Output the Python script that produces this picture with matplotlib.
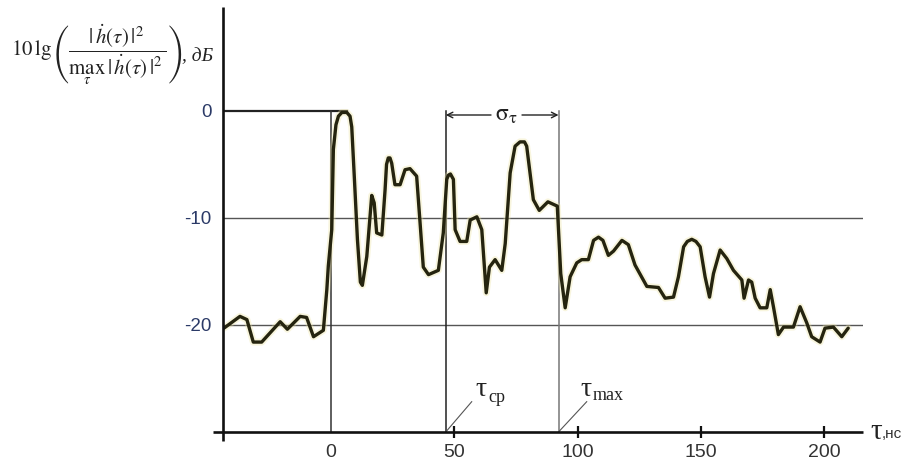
import matplotlib
matplotlib.use('Agg')
import matplotlib.pyplot as plt

# ---- data ----
tau_ns = [-43.3, -36.8, -34.0, -31.4, -28.0, -20.5, -17.6, -12.4, -9.8, -7.0,
          -3.0, -1.6, -1.0, 0.4, 1.05, 2.1, 3.1, 4.5, 6.5, 7.8,
          8.5, 9.5, 10.8, 12.0, 12.8, 14.6, 16.6, 17.6, 18.6, 20.7,
          22.0, 22.6, 23.3, 24.0, 24.7, 26.0, 28.1, 30.1, 32.1, 34.8, 36.2, 37.5,
          39.6, 43.6, 45.6, 47.0, 47.7, 48.5, 49.7, 50.4, 52.4, 55.1, 56.5, 59.2,
          61.2, 63.0, 64.3, 66.6, 69.3, 70.7, 72.7, 74.7, 76.7, 78.5, 79.4, 82.1,
          84.5, 88.0, 91.8, 93.2, 95.0, 97.0, 99.7, 101.7, 104.4, 106.5,
          108.5, 110.3, 112.5, 114.6, 118.0, 120.6, 123.3, 128.1, 132.8, 135.5,
          138.9, 140.9, 143.0, 144.5, 146.3, 148.0, 149.7, 151.7, 153.5, 155.1, 157.8, 160.5,
          163.2, 166.6, 167.5, 169.3, 170.6, 172.0, 174.0, 176.7, 178.1, 179.4,
          181.4, 183.5, 187.5, 190.2, 192.9, 194.9, 198.3, 200.3, 203.7, 207.1,
          209.7]
level_db = [-20.3, -19.2, -19.5, -21.6, -21.6, -19.7, -20.4, -19.2, -19.3, -21.1,
            -20.5, -16.7, -14.5, -11.1, -3.6, -1.3, -0.5, -0.15, -0.15, -0.5,
            -1.5, -6.0, -12.0, -16.0, -16.3, -13.6, -7.9, -8.6, -11.4, -11.6,
            -7.4, -5.0, -4.4, -4.4, -4.9, -6.9, -6.9, -5.5, -5.4, -6.1, -10.5, -14.6,
            -15.3, -14.9, -11.4, -6.4, -6.0, -5.9, -6.4, -11.1, -12.2, -12.2, -10.2, -9.9,
            -11.1, -17.0, -14.6, -13.9, -14.9, -12.4, -5.8, -3.3, -2.9, -2.9, -3.3, -8.3,
            -9.3, -8.5, -8.9, -15.2, -18.4, -15.5, -14.2, -13.9, -13.9, -12.1,
            -11.8, -12.1, -13.5, -13.1, -12.1, -12.5, -14.4, -16.4, -16.5, -17.5,
            -17.4, -15.5, -12.7, -12.2, -12.0, -12.2, -12.7, -15.5, -17.4, -15.2, -13.0, -13.8,
            -14.9, -15.8, -17.5, -15.8, -16.0, -17.5, -18.4, -18.4, -16.7, -18.3,
            -20.9, -20.2, -20.2, -18.3, -19.8, -21.1, -21.6, -20.3, -20.2, -21.1,
            -20.3]
x_ticks = [0, 50, 100, 150, 200]
x_tick_labels = ['0', '50', '100', '150', '200']
y_ticks = [0, -10, -20]
y_tick_labels = ['0', '-10', '-20']
tau_cp = 46.6
tau_max = 92.3

# ---- layout ----
W, H = 914, 461
fig = plt.figure(figsize=(W / 100, H / 100), dpi=100)
L, R, B, T = 222.7, 863.0, 432.0, 7.0
ax = fig.add_axes([L / W, 1 - B / H, (R - L) / W, (B - T) / H])
xmin, xmax = -43.8, 215.7
ymin, ymax = -30.0, 9.7
ax.set_xlim(xmin, xmax)
ax.set_ylim(ymin, ymax)
for s in ax.spines.values():
    s.set_visible(False)
ax.patch.set_alpha(0)

def px2x(px):
    return xmin + (px - L) / (R - L) * (xmax - xmin)

def px2y(py):
    return ymin + (B - py) / (B - T) * (ymax - ymin)

sans = ['Liberation Sans', 'DejaVu Sans']
serif = ['Liberation Serif', 'DejaVu Serif']

# axes lines
ax.plot([xmin, xmin], [px2y(441), ymax], color='#111111', lw=1.9,
        clip_on=False, solid_capstyle='butt', zorder=5)
ax.plot([px2x(213), xmax], [ymin, ymin], color='#111111', lw=1.9,
        clip_on=False, solid_capstyle='butt', zorder=5)

# grid lines
for yv in y_ticks[1:]:
    ax.plot([xmin, xmax], [yv, yv], color='#555555', lw=1.0, zorder=1)
ax.plot([xmin, px2x(347)], [0, 0], color='#222222', lw=1.6, zorder=1)
ax.plot([0, 0], [ymin, 0], color='#333333', lw=1.1, zorder=1)
ax.plot([tau_cp, tau_cp], [ymin, px2y(110.7)], color='#222222', lw=1.1, zorder=1)
ax.plot([tau_max, tau_max], [ymin, px2y(110.7)], color='#777777', lw=1.1, zorder=1)

# curve with faint yellowish halo
ax.plot(tau_ns, level_db, color='#ece3a0', lw=5.0, alpha=0.35,
        solid_joinstyle='round', solid_capstyle='round', zorder=3)
ax.plot(tau_ns, level_db, color='#25240f', lw=2.4,
        solid_joinstyle='round', solid_capstyle='round', zorder=4)

# sigma arrows
ys = px2y(115)
ap = dict(arrowstyle='->', lw=1.0, color='#222222', shrinkA=0, shrinkB=0,
          mutation_scale=10)
ax.annotate('', xy=(tau_cp, ys), xytext=(px2x(491), ys), arrowprops=ap)
ax.annotate('', xy=(tau_max, ys), xytext=(px2x(522), ys), arrowprops=ap)
fig.text(506 / W, 1 - 114 / H, r'$\mathrm{\sigma}_{\mathrm{\tau}}$', fontsize=17,
         color='#222222', ha='center', va='center', math_fontfamily='stix')

# leader lines
ax.plot([tau_cp, px2x(471.7)], [ymin, px2y(401.7)], color='#555555', lw=0.8)
ax.plot([tau_max, px2x(586.7)], [ymin, px2y(401.7)], color='#555555', lw=0.8)

fig.text(481.5 / W, 1 - 390 / H, 'τ', fontsize=20, family=serif,
         color='#222222', ha='center', va='center')
fig.text(488 / W, 1 - 397 / H, 'ср', fontsize=13, family=serif,
         color='#222222', ha='left', va='center')
fig.text(586.5 / W, 1 - 389 / H, 'τ', fontsize=20, family=serif,
         color='#222222', ha='center', va='center')
fig.text(593 / W, 1 - 395 / H, 'max', fontsize=13, family=serif,
         color='#222222', ha='left', va='center')

# x axis label
fig.text(876 / W, 1 - 432 / H, 'τ', fontsize=21, family=serif,
         color='#222222', ha='center', va='center')
fig.text(882 / W, 1 - 434 / H, ',нс', fontsize=11, family=sans,
         color='#333333', ha='left', va='center')

# ticks
ax.set_xticks(x_ticks)
ax.set_xticklabels(x_tick_labels, family=sans)
ax.tick_params(axis='x', direction='inout', length=9, width=1.6,
               color='#111111', pad=4, labelsize=14, labelcolor='#333333')
ax.xaxis.get_major_ticks()[0].tick1line.set_visible(False)
ax.set_yticks(y_ticks)
ax.set_yticklabels(y_tick_labels, family=sans)
ax.tick_params(axis='y', length=0, pad=8, labelsize=13.5, labelcolor='#2b3a67')

# y label formula
fig.text(97 / W, 1 - 55 / H,
         r'$10\,\lg\left(\dfrac{|\,\dot{h}(\tau)\,|^2}{\max_{\tau}\,|\,\dot{h}(\tau)\,|^2}\right)$',
         fontsize=15, color='#222222', ha='center', va='center',
         math_fontfamily='stix')
fig.text(182 / W, 1 - 57 / H, ', дБ', fontsize=14, family=serif,
         style='italic', color='#222222', ha='left', va='center')

fig.savefig('out.png', dpi=100)
